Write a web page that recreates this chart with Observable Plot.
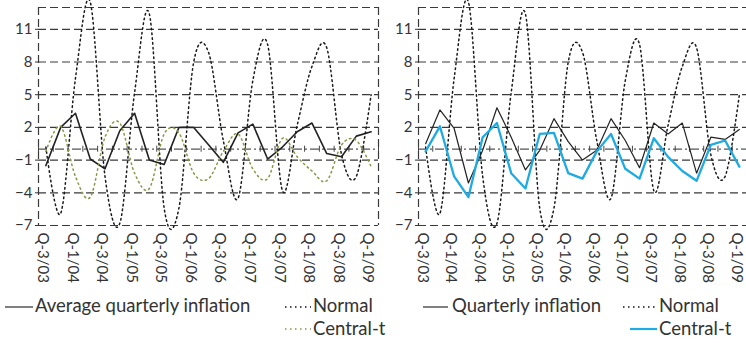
<!DOCTYPE html>
<html><head><meta charset="utf-8">
<script src="https://cdn.jsdelivr.net/npm/d3@7"></script>
<script src="https://cdn.jsdelivr.net/npm/@observablehq/plot@0.6"></script>
<style>
body{margin:0;background:#fff;font-family:Lato,sans-serif;color:#333}
#wrap{display:flex;width:746px;height:343px;overflow:hidden}
.panel{position:relative;flex:none}
.panel svg{display:block;overflow:visible}
</style></head><body><div id="wrap"><div class="panel" id="left"></div><div class="panel" id="right"></div></div>
<script>
// ---- data ----
const quarters = ["Q-3/03","Q-4/03","Q-1/04","Q-2/04","Q-3/04","Q-4/04","Q-1/05","Q-2/05","Q-3/05","Q-4/05",
  "Q-1/06","Q-2/06","Q-3/06","Q-4/06","Q-1/07","Q-2/07","Q-3/07","Q-4/07","Q-1/08","Q-2/08","Q-3/08","Q-4/08","Q-1/09"];
const avgQuarterlyInflation = [-1.5,2.0,3.3,-0.9,-1.8,1.7,3.3,-1.0,-1.4,2.0,2.0,0.4,-1.2,1.5,2.3,-0.9,0.2,1.6,2.4,-0.4,-0.7,1.2,1.6];
const quarterlyInflation = [0.5,3.6,1.9,-3.1,-0.1,3.8,1.1,-1.9,-0.1,2.8,0.7,-1.0,-0.1,2.8,0.8,-1.7,2.4,1.4,2.4,-2.2,1.1,0.9,1.8];
const normal = [0.2,-5.9,6.5,13.5,-2.5,-6.8,5.2,12.4,-5.4,-5.4,8.0,8.9,0.8,-4.5,6.3,9.6,-3.8,2.2,7.6,9.3,-0.5,-2.5,5.0];
const centralT = [-0.2,2.1,-2.5,-4.4,1.1,2.4,-2.2,-3.6,1.4,1.5,-2.2,-2.7,-0.2,1.4,-1.8,-2.7,1.0,-0.7,-2.0,-2.9,0.4,0.8,-1.6];
const yTicks = [11,8,5,2,-1,-4,-7];
const yDomain = [-7,13];
const xTickIndex = [0,2,4,6,8,10,12,14,16,18,20,22];
const leftLegend = ["Average quarterly inflation","Normal","Central-t"];
const rightLegend = ["Quarterly inflation","Normal","Central-t"];

const gridColor = "#3a3a3a";
const olive = "#8a9545";
const blue = "#1eaae2";

function panel({width, marginRight, black, blackWidth, centralMark, rightBorder}) {
  const n = quarters.length;
  const bounds = d3.range(n + 1).map(i => i - 0.5);
  const xDomain = [bounds[0], bounds[n]];
  const borders = rightBorder ? xDomain : [xDomain[0]];
  const X = (d, i) => i;
  return Plot.plot({
    width, height: 290,
    marginLeft: 38, marginRight, marginTop: 7, marginBottom: 65,
    x: {type: "linear", domain: xDomain},
    y: {domain: yDomain},
    style: {fontFamily: "Lato, sans-serif", fontSize: "15px", color: "#333", background: "transparent"},
    marks: [
      Plot.ruleY([...yTicks, yDomain[1]], {stroke: gridColor, strokeDasharray: "8,4", strokeWidth: 1.2}),
      Plot.ruleX(borders, {stroke: gridColor, strokeDasharray: "8,4", strokeWidth: 1.2}),
      Plot.ruleY([0], {stroke: "#555", strokeDasharray: "9,3,2,3", strokeWidth: 1.2}),
      Plot.ruleX(bounds, {x: d => d, y1: () => 0, y2: () => 0, insetTop: -3, insetBottom: -3, stroke: "#444"}),
      Plot.axisY(yTicks, {tickSize: 3, tickPadding: 3, stroke: "#333"}),
      Plot.axisX(xTickIndex, {tickSize: 0, tickRotate: 90, tickPadding: 7, dx: -3, tickFormat: i => quarters[i]}),
      Plot.line(black, {x: X, y: d => d, stroke: "#222", strokeWidth: blackWidth}),
      Plot.line(normal, {x: X, y: d => d, curve: "cardinal", stroke: "#1a1a1a", strokeWidth: 1.5, strokeDasharray: "1.6,3.2"}),
      centralMark
    ]
  });
}

const leftPlot = panel({
  width: 380, marginRight: 2, black: avgQuarterlyInflation, blackWidth: 1.6, rightBorder: true,
  centralMark: Plot.line(centralT, {x: (d, i) => i, y: d => d, curve: "cardinal", stroke: olive, strokeWidth: 1.5, strokeDasharray: "1.5,3.5"})
});
const rightPlot = panel({
  width: 366, marginRight: 0, black: quarterlyInflation, blackWidth: 1.2, rightBorder: false,
  centralMark: Plot.line(centralT, {x: (d, i) => i, y: d => d, stroke: blue, strokeWidth: 2.3})
});
document.getElementById("left").append(leftPlot);
document.getElementById("right").append(rightPlot);

function legend(el, width, items) {
  const svg = d3.select(el).append("svg").attr("width", width).attr("height", 53)
    .style("font-family", "Lato, sans-serif").style("font-size", "18.5px");
  for (const it of items) {
    svg.append("line").attr("x1", it.x1).attr("x2", it.x2).attr("y1", it.ly).attr("y2", it.ly)
      .attr("stroke", it.stroke).attr("stroke-width", it.sw).attr("stroke-dasharray", it.dash || null);
    svg.append("text").attr("x", it.tx).attr("y", it.ty).attr("fill", "#333").text(it.label);
  }
}
legend("#left", 380, [
  {label: leftLegend[0], x1: 5, x2: 33, ly: 17, tx: 35, ty: 22, stroke: "#555", sw: 1.5},
  {label: leftLegend[1], x1: 285, x2: 311, ly: 17, tx: 313, ty: 22, stroke: "#111", sw: 1.6, dash: "1.5,3.5"},
  {label: leftLegend[2], x1: 285, x2: 311, ly: 39, tx: 313, ty: 44.5, stroke: olive, sw: 1.6, dash: "1.5,3.5"}
]);
legend("#right", 366, [
  {label: rightLegend[0], x1: 43, x2: 68, ly: 17, tx: 72, ty: 22, stroke: "#555", sw: 1.5},
  {label: rightLegend[1], x1: 243, x2: 277, ly: 17, tx: 279, ty: 22, stroke: "#111", sw: 1.6, dash: "1.5,3.5"},
  {label: rightLegend[2], x1: 250, x2: 277, ly: 39, tx: 279, ty: 44.5, stroke: blue, sw: 2.2}
]);
</script></body></html>
